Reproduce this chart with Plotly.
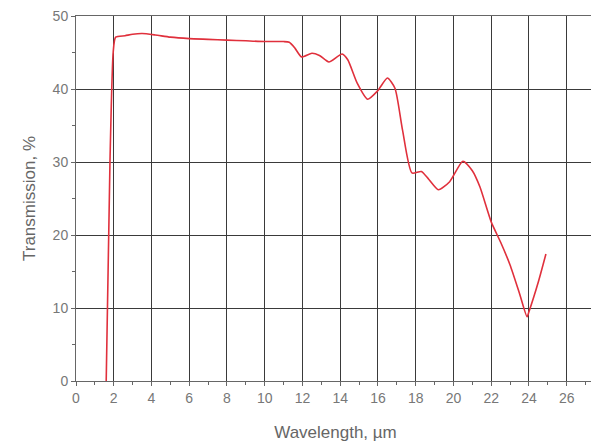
import plotly.graph_objects as go

wavelength = [1.6, 1.8, 1.97, 2.1, 2.6, 3.0, 3.5, 4.2, 5.0, 6.0, 7.0, 8.0, 9.0, 10.0, 11.0, 11.3, 11.6, 11.95,
              12.5, 12.9, 13.4, 14.1, 14.4, 14.9, 15.45, 16.0, 16.5, 16.9, 17.3, 17.8, 18.3, 18.7, 19.2,
              19.8, 20.5, 21.0, 21.4, 22.0, 22.5, 23.0, 23.5, 23.9, 24.0, 24.5, 24.9]
transmission = [0.0, 30.0, 45.0, 47.1, 47.3, 47.5, 47.6, 47.4, 47.1, 46.9, 46.8, 46.7, 46.6, 46.5, 46.5, 46.4, 45.6, 44.4,
                44.9, 44.6, 43.7, 44.8, 44.0, 40.8, 38.6, 39.8, 41.5, 40.1, 34.4, 28.5, 28.7, 27.6, 26.2,
                27.3, 30.1, 28.8, 26.6, 21.8, 19.0, 15.9, 12.0, 8.8, 9.5, 13.6, 17.4]

x_ticks = list(range(0, 27, 2))
y_ticks = [0, 10, 20, 30, 40, 50]

fig = go.Figure()
fig.add_trace(go.Scatter(x=wavelength, y=transmission, mode="lines",
                         line=dict(color="#e0303c", width=1.6, shape="spline", smoothing=0.6),
                         showlegend=False))

axis_common = dict(showline=True, linecolor="#666666", linewidth=1, mirror=True,
                   showgrid=True, gridcolor="#3a3a3a", gridwidth=1, zeroline=False,
                   ticks="outside", ticklen=4, tickcolor="#666666", automargin=False,
                   ticklabeloverflow="allow",
                   tickfont=dict(family="Liberation Sans, Arial", size=14, color="#777777"))

fig.update_xaxes(range=[0, 27.5], tickvals=x_ticks, ticktext=[str(v) for v in x_ticks],
                 minor=dict(dtick=1, tick0=0, ticks="outside", ticklen=3, tickcolor="#666666", showgrid=False),
                 title=dict(text="Wavelength, µm", font=dict(family="Liberation Sans, Arial", size=17, color="#666666"),
                            standoff=21),
                 **axis_common)
fig.update_yaxes(range=[0, 50], tickvals=y_ticks, ticktext=[str(v) for v in y_ticks],
                 minor=dict(dtick=5, tick0=0, ticks="outside", ticklen=3, tickcolor="#666666", showgrid=False),
                 title=dict(text="Transmission, %", font=dict(family="Liberation Sans, Arial", size=17, color="#666666"),
                            standoff=12),
                 **axis_common)

fig.update_layout(width=591, height=436, margin=dict(l=68, r=4, t=8, b=63),
                  plot_bgcolor="white", paper_bgcolor="white")

fig.write_html("out.html")
